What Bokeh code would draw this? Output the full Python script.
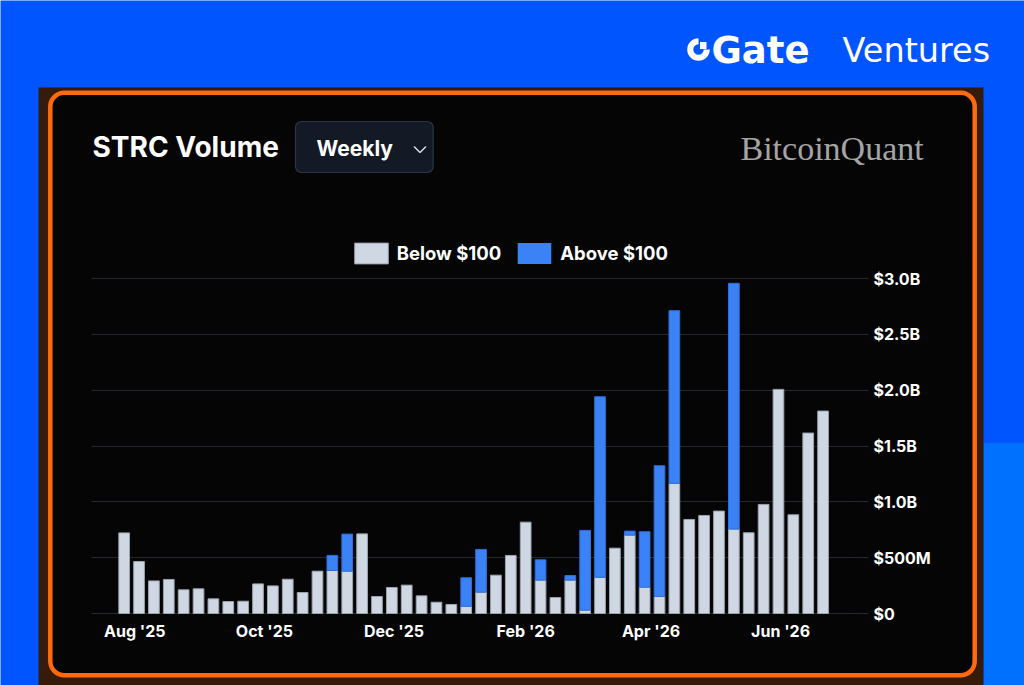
import math
import pandas as pd
from bokeh.plotting import figure
from bokeh.models import (Range1d, FixedTicker, CustomJSTickFormatter, Label,
                          DatetimeTickFormatter, ColumnDataSource)
from bokeh.embed import file_html
from bokeh.resources import INLINE

# ---------------- data ----------------
weeks = pd.date_range("2025-07-27", periods=48, freq="7D")
below_100 = [0.722, 0.466, 0.292, 0.305, 0.212, 0.221, 0.131, 0.107, 0.110, 0.265,
             0.247, 0.307, 0.188, 0.379, 0.385, 0.379, 0.713, 0.152, 0.233, 0.254,
             0.158, 0.101, 0.081, 0.064, 0.191, 0.343, 0.520, 0.818, 0.299, 0.143,
             0.299, 0.030, 0.323, 0.585, 0.702, 0.236, 0.152, 1.165, 0.842, 0.878,
             0.917, 0.756, 0.723, 0.977, 2.007, 0.884, 1.616, 1.813]
above_100 = [0, 0, 0, 0, 0, 0, 0, 0, 0, 0,
             0, 0, 0, 0, 0.135, 0.332, 0, 0, 0, 0,
             0, 0, 0, 0.256, 0.382, 0, 0, 0, 0.182, 0,
             0.041, 0.714, 1.618, 0, 0.036, 0.496, 1.171, 1.547, 0, 0,
             0, 2.201, 0, 0, 0, 0, 0, 0]
series_names = ["Below $100", "Above $100"]
month_ticks = ["2025-08-01", "2025-10-01", "2025-12-01", "2026-02-01", "2026-04-01", "2026-06-01"]
y_ticks = [0, 0.5, 1.0, 1.5, 2.0, 2.5, 3.0]

# ---------------- layout constants (page pixels) ----------------
W, H = 1024, 685
DAY = 86400000.0
PX_PER_DAY = 2.1243
AUG1_X = 134.3
ZERO_Y = 613.0
PX_PER_B = 335.0 / 3.0
CHART_L, CHART_R = 90.5, 855.0

aug1 = pd.Timestamp("2025-08-01").value / 1e6


def x_of(px):
    return aug1 + (px - AUG1_X) / PX_PER_DAY * DAY


def y_of(py):
    return (ZERO_Y - py) / PX_PER_B


src = ColumnDataSource(dict(week=weeks, below=below_100, above=above_100,
                            above_edge=[1.0 if v > 0 else 0.0 for v in above_100]))

p = figure(width=W, height=H, output_backend="svg", toolbar_location=None, tools="",
           x_axis_type="datetime", y_axis_location="right",
           x_range=Range1d(x_of(0), x_of(W)),
           y_range=Range1d(y_of(H), y_of(0)),
           min_border=0, min_border_left=0, min_border_right=0,
           min_border_top=0, min_border_bottom=0)
p.extra_x_ranges = {"px": Range1d(0, W)}
p.extra_y_ranges = {"px": Range1d(H, 0)}
p.outline_line_color = None
p.background_fill_color = "#0055ff"
p.border_fill_color = "#0055ff"

PX = dict(x_range_name="px", y_range_name="px", level="image")

# ---------------- decorations ----------------
p.quad(left=983, right=W, top=442.5, bottom=H, fill_color="#0071ff", line_color=None, **PX)
p.quad(left=38, right=983, top=87, bottom=H, fill_color="#361a0a", line_color=None, **PX)
p.quad(left=49.8, right=974.2, top=92.2, bottom=674.8, fill_color="#050505",
       line_color="#ff6a0f", line_width=4.5, border_radius=14, **PX)
p.quad(left=295, right=432.7, top=121, bottom=172, fill_color="#131a26",
       line_color="#2c3545", line_width=1.2, border_radius=6, **PX)
p.line(x=[413.5, 419.5, 425.5], y=[146, 152, 146], line_color="#d6dae0", line_width=1.5, **PX)

# Gate logo icon
p.annular_wedge(x=698, y=49, inner_radius=5.2, outer_radius=11.3,
                start_angle=math.pi / 2, end_angle=2 * math.pi, direction="anticlock",
                fill_color="white", line_color=None, **PX)
p.quad(left=699.5, right=706, top=41.5, bottom=48.5, fill_color="white", line_color=None, **PX)


def lab(text, x, y, size, font="Inter", style="bold", color="white", baseline="middle", align="left"):
    p.add_layout(Label(x=x, y=y, text=text, x_range_name="px", y_range_name="px",
                       text_font=font, text_font_size=size, text_font_style=style,
                       text_color=color, text_baseline=baseline, text_align=align))


lab("Gate", 711, 49.5, "37px", font="DejaVu Sans")
lab("Ventures", 842, 50, "33.5px", font="DejaVu Sans", style="normal")
lab("STRC Volume", 92, 146.5, "28px")
lab("Weekly", 316, 147.5, "21px")
lab("BitcoinQuant", 740, 147.5, "34px", font="Liberation Serif", style="normal", color="#a4a4a4")

# ---------------- bars ----------------
renderers = p.vbar_stack(["below", "above"], x="week", width=0.72 * 7 * DAY, source=src,
                         fill_color=["#cfd8e2", "#3b82f6"], line_color=["#9aa4af", "#2f6fdc"],
                         line_alpha=[1.0, "above_edge"],
                         line_width=1, legend_label=series_names)

# ---------------- axes & grid ----------------
p.xaxis.fixed_location = 0
p.xaxis.ticker = FixedTicker(ticks=[pd.Timestamp(t).value / 1e6 for t in month_ticks])
p.xaxis.formatter = DatetimeTickFormatter(days="%b '%y", months="%b '%y", years="%b '%y")
p.xaxis.axis_line_color = None
p.xaxis.major_tick_line_color = None
p.xaxis.minor_tick_line_color = None
p.xaxis.major_tick_out = 0
p.xaxis.major_tick_in = 0
p.xaxis.major_label_standoff = 7
p.xaxis.major_label_text_font = "Inter"
p.xaxis.major_label_text_font_style = "bold"
p.xaxis.major_label_text_font_size = "16px"
p.xaxis.major_label_text_color = "white"

p.yaxis.fixed_location = x_of(CHART_R)
p.yaxis.ticker = FixedTicker(ticks=y_ticks)
p.yaxis.formatter = CustomJSTickFormatter(code="""
if (tick == 0) return '$0';
if (tick < 1) return '$' + Math.round(tick * 1000) + 'M';
return '$' + tick.toFixed(1) + 'B';
""")
p.yaxis.axis_line_color = None
p.yaxis.minor_tick_line_color = None
p.yaxis.major_tick_line_color = "#25282e"
p.yaxis.major_tick_out = 13
p.yaxis.major_tick_in = 0
p.yaxis.major_label_standoff = 5
p.yaxis.major_label_text_font = "Inter"
p.yaxis.major_label_text_font_style = "bold"
p.yaxis.major_label_text_font_size = "16px"
p.yaxis.major_label_text_color = "white"

p.xgrid.visible = False
yg = p.ygrid[0]
yg.ticker = FixedTicker(ticks=y_ticks)
yg.grid_line_color = "#25282e"
yg.grid_line_width = 1
if "cross_bounds" in yg.properties():
    yg.cross_bounds = (x_of(CHART_L), x_of(CHART_R))

# ---------------- legend ----------------
lg = p.legend[0]
lg.location = (354 - 4.25, H - 265.9)
lg.orientation = "horizontal"
lg.glyph_width = 42
lg.glyph_height = 26
lg.label_height = 26
lg.label_standoff = 5
lg.spacing = 12
lg.padding = 0
lg.margin = 0
lg.border_line_color = None
lg.background_fill_alpha = 0
lg.label_text_font = "Inter"
lg.label_text_font_style = "bold"
lg.label_text_font_size = "18.5px"
lg.label_text_color = "white"

open("out.html", "w").write(file_html(p, INLINE))
